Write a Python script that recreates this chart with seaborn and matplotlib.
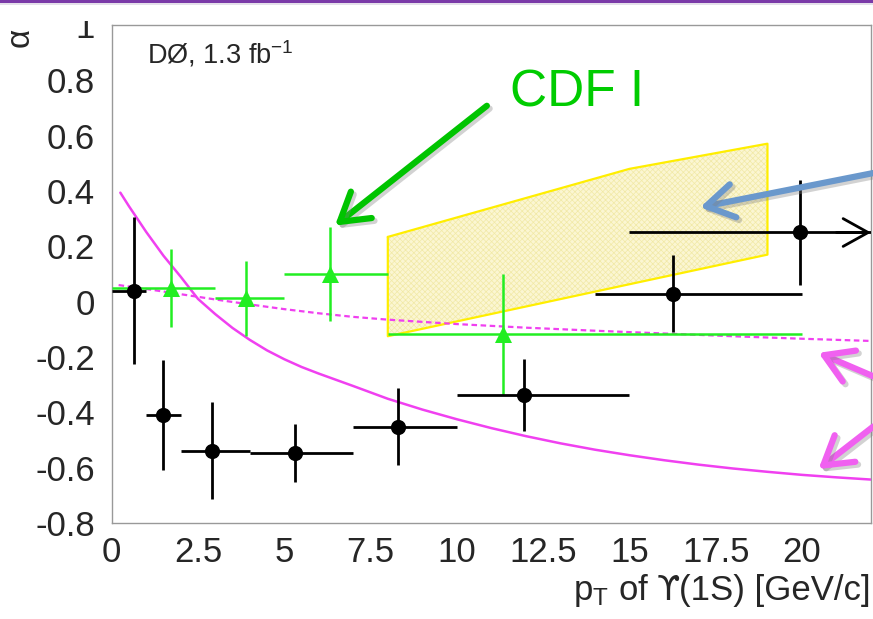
import numpy as np
import matplotlib
matplotlib.use("Agg")
import matplotlib.pyplot as plt
import matplotlib.patheffects as pe
from matplotlib.patches import Rectangle
from matplotlib.ticker import MultipleLocator, FuncFormatter
import seaborn as sns

# === DØ measurement (black) ===
d0_pt = [0.65, 1.5, 2.9, 5.3, 8.3, 11.95, 16.26, 19.93]
d0_alpha = [0.04, -0.41, -0.538, -0.546, -0.452, -0.336, 0.029, 0.25]
d0_bin_lo = [0, 1, 2, 4, 7, 10, 14, 15]
d0_bin_hi = [1, 2, 4, 7, 10, 15, 20, 22]
d0_err = [0.265, 0.2, 0.174, 0.105, 0.14, 0.13, 0.14, 0.19]

# === CDF Run I (green) ===
cdf_pt = [1.71, 3.88, 6.33, 11.35]
cdf_alpha = [0.05, 0.012, 0.1, -0.118]
cdf_bin_lo = [0, 3, 5, 8]
cdf_bin_hi = [3, 5, 8, 20]
cdf_err = [0.14, 0.135, 0.17, 0.218]

# === NRQCD band (yellow) ===
band_pt = [8, 15, 19]
band_hi = [0.234, 0.48, 0.571]
band_lo = [-0.125, 0.063, 0.17]

# === model curves (magenta) ===
solid_pt = [0.25, 0.5, 1, 1.5, 2, 2.5, 3, 3.5, 4, 4.5, 5, 5.5, 6, 7, 8, 9, 10,
            11, 12, 13, 14, 15, 16, 17, 18, 19, 20, 21, 22]
solid_alpha = [0.394, 0.345, 0.252, 0.166, 0.09, 0.01, -0.045, -0.095, -0.138,
               -0.176, -0.208, -0.236, -0.26, -0.305, -0.351, -0.39, -0.425,
               -0.457, -0.486, -0.512, -0.535, -0.555, -0.573, -0.589, -0.603,
               -0.615, -0.626, -0.635, -0.643]
dashed_pt = [0.2, 1, 2, 3, 4, 5, 6, 7, 8, 10, 12, 14, 16, 18, 20, 22]
dashed_alpha = [0.06, 0.046, 0.027, 0.008, -0.01, -0.027, -0.042, -0.055,
                -0.065, -0.081, -0.094, -0.105, -0.115, -0.125, -0.134, -0.142]

# === slide annotation arrows: tail, tip, colour ===
arrow_tails = [(10.87, 0.708), (22.07, 0.465), (22.07, -0.27), (22.07, -0.451)]
arrow_tips = [(6.47, 0.275), (17.05, 0.341), (20.48, -0.185), (20.48, -0.605)]
arrow_colors = ["#00c400", "#6a98cc", "#f060f0", "#f060f0"]

sns.set_style("white")
plt.rcParams["font.family"] = ["Liberation Sans", "DejaVu Sans"]
plt.rcParams["mathtext.fontset"] = "custom"
plt.rcParams["mathtext.rm"] = "Liberation Sans"
plt.rcParams["mathtext.it"] = "Liberation Sans:italic"
plt.rcParams["hatch.linewidth"] = 0.5

W, H = 873, 619
fig = plt.figure(figsize=(W / 100, H / 100), dpi=100)
ax = fig.add_axes([111.7 / W, (H - 523) / H, (871 - 111.7) / W, (523 - 25) / H])

# band
ax.fill_between(band_pt, band_lo, band_hi, facecolor="#fbf6d2", hatch="xxxxxx",
                edgecolor="#f1e9a6", linewidth=0, zorder=1)
ax.plot(band_pt + band_pt[::-1] + band_pt[:1], band_hi + band_lo[::-1] + band_hi[:1],
        color="#ffee00", lw=1.6, zorder=2)

# curves
sns.lineplot(x=solid_pt, y=solid_alpha, color="#f040f0", lw=1.8, sort=False, ax=ax, zorder=3)
sns.lineplot(x=dashed_pt, y=dashed_alpha, color="#f040f0", lw=1.6, sort=False, ax=ax,
             zorder=3, linestyle=(0, (2.5, 1.6)))

# CDF points
cdf_xerr = [np.subtract(cdf_pt, cdf_bin_lo), np.subtract(cdf_bin_hi, cdf_pt)]
ax.errorbar(cdf_pt, cdf_alpha, xerr=cdf_xerr, yerr=cdf_err, fmt="none",
            ecolor="#22ee22", elinewidth=1.8, capsize=0, zorder=4)
sns.scatterplot(x=cdf_pt, y=cdf_alpha, marker="^", s=150, color="#22ee22",
                linewidth=0, ax=ax, zorder=5)

# DØ points
d0_xerr = [np.subtract(d0_pt, d0_bin_lo), np.subtract(d0_bin_hi, d0_pt)]
ax.errorbar(d0_pt, d0_alpha, xerr=d0_xerr, yerr=d0_err, fmt="none",
            ecolor="black", elinewidth=2.0, capsize=0, zorder=6)
sns.scatterplot(x=d0_pt, y=d0_alpha, marker="o", s=120, color="black",
                linewidth=0, ax=ax, zorder=7)
# last bin is open ended
ax.annotate("", xy=(d0_bin_hi[-1], d0_alpha[-1]), xytext=(d0_bin_hi[-1] - 1, d0_alpha[-1]),
            arrowprops=dict(arrowstyle="->,head_length=0.9,head_width=0.5", lw=2.0,
                            color="black", mutation_scale=20, shrinkA=0, shrinkB=0),
            annotation_clip=False, zorder=7)

# axes, ROOT style
ax.set_xlim(0, 22)
ax.set_ylim(-0.8, 1.0)
ax.xaxis.set_major_locator(MultipleLocator(2.5))
ax.xaxis.set_minor_locator(MultipleLocator(0.5))
ax.yaxis.set_major_locator(MultipleLocator(0.2))
ax.yaxis.set_minor_locator(MultipleLocator(0.05))
ax.xaxis.set_major_formatter(FuncFormatter(lambda v, p: f"{v:g}"))
ax.yaxis.set_major_formatter(FuncFormatter(lambda v, p: "0" if abs(v) < 1e-9 else f"{v:g}"))
ax.tick_params(which="both", direction="in", color="#999999", width=1,
               labelsize=25, top=False, right=False)
ax.tick_params(which="major", length=13)
ax.tick_params(which="minor", length=7)
ax.tick_params(axis="y", pad=12)
ax.tick_params(axis="x", pad=9)
for s in ax.spines.values():
    s.set_color("#999999")
    s.set_linewidth(1)

ax.set_ylabel("α", rotation=90, fontsize=24)
ax.yaxis.set_label_coords(-0.1, 0.975)

# x title: p_T of ϒ(1S) [GeV/c], upsilon with hooks from DejaVu
ylab = -0.155
t3 = ax.text(1.0, ylab, "(1S) [GeV/c]", transform=ax.transAxes, ha="right",
             va="baseline", fontsize=25)
t2 = ax.annotate("ϒ", xy=(0, ylab), xycoords=(t3, "axes fraction"), ha="right",
                 va="baseline", fontsize=24, family="DejaVu Sans")
ax.annotate(r"p$_{\rm T}$ of", xy=(0, ylab), xycoords=(t2, "axes fraction"),
            xytext=(-5, 0), textcoords="offset points", ha="right", va="baseline", fontsize=25)

ax.text(1.03, 0.86, r"DØ, 1.3 fb$^{-1}$", fontsize=19.5)
ax.text(11.55, 0.704, "CDF I", fontsize=37, color="#00cc00", clip_on=False)

# slide annotation arrows
for tail, tip, col in zip(arrow_tails, arrow_tips, arrow_colors):
    a = ax.annotate("", xy=tip, xytext=tail,
                    arrowprops=dict(arrowstyle="->,head_length=0.9,head_width=0.55",
                                    lw=4.5, color=col, mutation_scale=22,
                                    shrinkA=0, shrinkB=0, capstyle="round"),
                    annotation_clip=False, zorder=9)
    a.arrow_patch.set_path_effects([pe.SimpleLineShadow(offset=(2, -2), shadow_color="gray", alpha=0.35),
                                    pe.Normal()])

# slide frame at the top
fig.add_artist(Rectangle((0, (H - 21) / H), 1, 21 / H, transform=fig.transFigure,
                         facecolor="white", edgecolor="none", zorder=10))
fig.add_artist(Rectangle((0, (H - 5) / H), 1, 5 / H, transform=fig.transFigure,
                         facecolor="#e4e0ea", edgecolor="none", zorder=11))
fig.add_artist(Rectangle((0, (H - 3) / H), 1, 3 / H, transform=fig.transFigure,
                         facecolor="#7a3aa8", edgecolor="none", zorder=12))

fig.savefig("out.png", dpi=100)
